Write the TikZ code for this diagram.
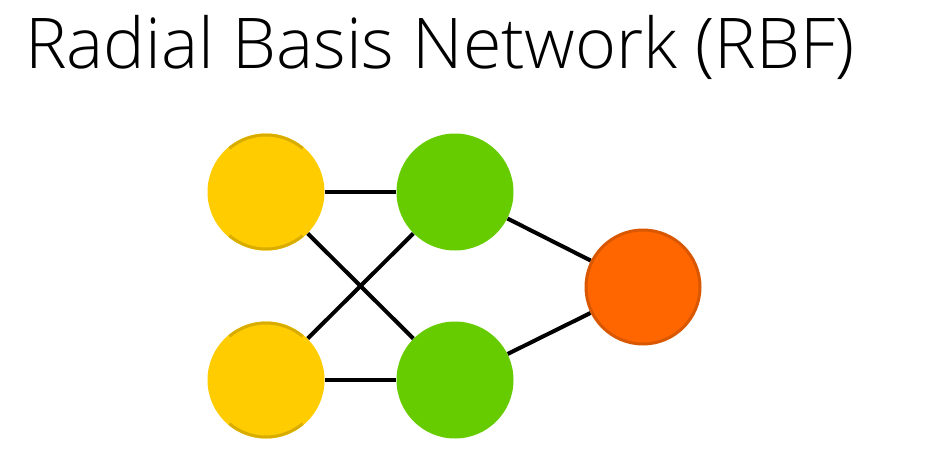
\documentclass[tikz,border=0pt]{standalone}
\usepackage{fontspec}
\setmainfont{Open Sans}[UprightFont=* Light]
\usetikzlibrary{backgrounds}
\definecolor{yel}{HTML}{FFCC00}
\definecolor{yeldark}{HTML}{D9AD00}
\definecolor{grn}{HTML}{66CC00}
\definecolor{org}{HTML}{FF6600}
\definecolor{orgdark}{HTML}{D95700}
\begin{document}
\begin{tikzpicture}[x=1pt,y=-1pt,
  inp/.style={circle,fill=yel,minimum size=117pt,inner sep=0pt},
  hid/.style={circle,fill=grn,minimum size=117pt,inner sep=0pt},
  outp/.style={circle,fill=org,draw=orgdark,line width=3pt,minimum size=114pt,inner sep=0pt},
  rim/.style={draw=yeldark,line width=3pt},
  conn/.style={line width=4pt,black}]
\useasboundingbox (0,0) rectangle (927,453);
\node[anchor=base west,inner sep=0pt,font=\fontsize{70}{80}\selectfont] (title) at (25,68) {Radial Basis Network (RBF)};
\node[inp] (i1) at (266,192) {};
\node[inp] (i2) at (266,380) {};
\node[hid] (h1) at (455,192) {};
\node[hid] (h2) at (455,380) {};
\node[outp] (o) at (643,287) {};
\foreach \n in {i1,i2}{
  \draw[rim] (\n.center) ++(130:57pt) arc[start angle=130,end angle=50,radius=57pt];
  \draw[rim] (\n.center) ++(230:57pt) arc[start angle=230,end angle=310,radius=57pt];
}
\begin{scope}[on background layer]
\draw[conn] (i1) -- (h1);
\draw[conn] (i1) -- (h2);
\draw[conn] (i2) -- (h1);
\draw[conn] (i2) -- (h2);
\draw[conn] (h1) -- (o);
\draw[conn] (h2) -- (o);
\end{scope}
\end{tikzpicture}
\end{document}
